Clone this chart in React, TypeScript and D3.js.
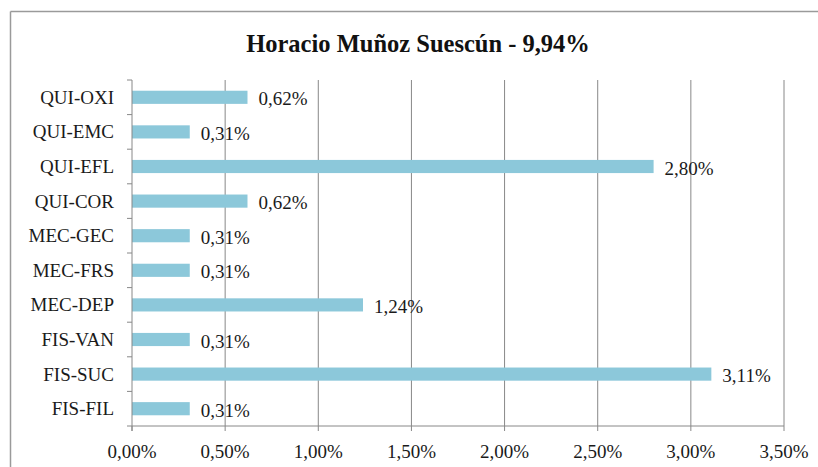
import React from "react";
import * as d3 from "d3";

const categories = ["QUI-OXI", "QUI-EMC", "QUI-EFL", "QUI-COR", "MEC-GEC", "MEC-FRS", "MEC-DEP", "FIS-VAN", "FIS-SUC", "FIS-FIL"];
const values = [0.62, 0.31, 2.8, 0.62, 0.31, 0.31, 1.24, 0.31, 3.11, 0.31];
const tickValues = [0, 0.5, 1, 1.5, 2, 2.5, 3, 3.5];
const title = "Horacio Muñoz Suescún - 9,94%";

const W = 818, H = 467;
const left = 132, right = 784, top = 80, bottom = 426;
const fmt = (v: number) => v.toFixed(2).replace(".", ",") + "%";
const font = "Liberation Serif";

export default function App() {
  const x = d3.scaleLinear().domain([0, 3.5]).range([left, right]);
  const y = d3.scaleBand<string>().domain(categories).range([top, bottom]).paddingInner(0.62).paddingOuter(0.31);
  const band = (bottom - top) / categories.length;
  const txt = { fontFamily: font, fontSize: 19, fill: "#1a1a1a" } as React.CSSProperties;
  return (
    <svg width={W} height={H} style={{ position: "absolute", left: 0, top: 0, background: "#fff" }}>
      <line x1={10.5} x2={W} y1={11.5} y2={11.5} stroke="#9a9a9a" strokeWidth={1.5} />
      <line x1={10.5} x2={10.5} y1={11.5} y2={H} stroke="#9a9a9a" strokeWidth={1.5} />
      <text x={418} y={52} textAnchor="middle" style={{ fontFamily: font, fontWeight: "bold", fontSize: 24.5, fill: "#111" }}>{title}</text>
      {tickValues.filter(t => t > 0).map(t => (
        <line key={t} x1={x(t)} x2={x(t)} y1={top} y2={bottom} stroke="#888" strokeWidth={1} />
      ))}
      {categories.map((c, i) => (
        <rect key={c} x={x(0)} y={y(c)!} width={x(values[i]) - x(0)} height={y.bandwidth()} fill="#8cc8da" />
      ))}
      <line x1={left} x2={left} y1={top} y2={bottom + 5} stroke="#888" />
      <line x1={left - 5} x2={right} y1={bottom} y2={bottom} stroke="#888" />
      {d3.range(categories.length).map(i => (
        <line key={i} x1={left - 5} x2={left} y1={top + i * band} y2={top + i * band} stroke="#888" />
      ))}
      {tickValues.map(t => (
        <g key={t}>
          <line x1={x(t)} x2={x(t)} y1={bottom} y2={bottom + 5} stroke="#888" />
          <text x={x(t)} y={458} textAnchor="middle" style={txt}>{fmt(t)}</text>
        </g>
      ))}
      {categories.map((c, i) => (
        <g key={c}>
          <text x={114} y={y(c)! + y.bandwidth() / 2 + 6.5} textAnchor="end" style={txt}>{c}</text>
          <text x={x(values[i]) + 11} y={y(c)! + y.bandwidth() / 2 + 8} style={txt}>{fmt(values[i])}</text>
        </g>
      ))}
    </svg>
  );
}
